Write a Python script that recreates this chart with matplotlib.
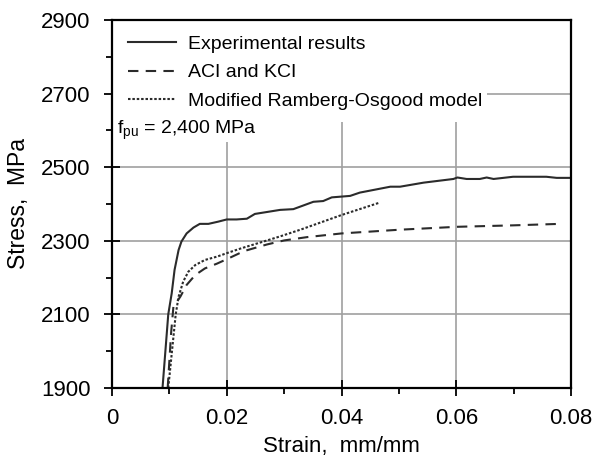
# Stress-strain curves: experimental vs. code models
import matplotlib.pyplot as plt
from matplotlib.patches import Rectangle

plt.rcParams['font.family'] = ['Liberation Sans', 'DejaVu Sans']

# experimental results (strain mm/mm, stress MPa)
exp_strain = [0.0088, 0.0098, 0.0104, 0.0109, 0.0116, 0.0121, 0.0130, 0.0142, 0.0153,
              0.0168, 0.0185, 0.0200, 0.0217, 0.0235, 0.0249, 0.0293,
              0.0316, 0.0351, 0.0368, 0.0383, 0.0415, 0.0432, 0.0485, 0.0502, 0.0543,
              0.0595, 0.0602, 0.0618, 0.0641, 0.0653, 0.0665, 0.0699, 0.0757, 0.0775, 0.0800]
exp_stress = [1900, 2100, 2157, 2221, 2275, 2298, 2320, 2336, 2346,
              2346, 2352, 2358, 2358, 2360, 2373, 2384,
              2386, 2406, 2408, 2418, 2422, 2431, 2447, 2447, 2458,
              2468, 2472, 2468, 2468, 2472, 2468, 2474, 2474, 2471, 2471]

# ACI and KCI
aci_strain = [0.0097, 0.0103, 0.0107, 0.0119, 0.0130, 0.0145, 0.0162, 0.0183, 0.0200,
              0.0230, 0.0270, 0.0300, 0.0340, 0.0400, 0.0500, 0.0601, 0.0700, 0.0781]
aci_stress = [1900, 2050, 2121, 2148, 2180, 2207, 2225, 2238, 2250,
              2272, 2290, 2301, 2310, 2320, 2330, 2338, 2342, 2346]

# Modified Ramberg-Osgood model
ro_strain = [0.0098, 0.0111, 0.0116, 0.0124, 0.0133, 0.0145, 0.0162, 0.0183, 0.0203,
             0.0226, 0.0264, 0.0293, 0.0328, 0.0400, 0.0467]
ro_stress = [1900, 2100, 2148, 2189, 2216, 2234, 2248, 2257, 2268,
             2280, 2298, 2312, 2330, 2370, 2404]

fig = plt.figure(figsize=(5.94, 4.62), dpi=100)
ax = fig.add_axes([0.1886, 0.1602, 0.7727, 0.7965])
ax.set_axisbelow(True)

lc = '#2b2b2b'
ax.plot(exp_strain, exp_stress, color=lc, lw=1.5, ls='-', label='Experimental results')
ax.plot(aci_strain, aci_stress, color=lc, lw=1.5, ls=(0, (5, 3.5)), label='ACI and KCI')
ax.plot(ro_strain, ro_stress, color=lc, lw=1.5, ls=(0, (1.2, 0.9)),
        label='Modified Ramberg-Osgood model')

ax.set_xlim(0, 0.08)
ax.set_ylim(1900, 2900)
ax.set_xticks([0, 0.02, 0.04, 0.06, 0.08])
ax.set_xticklabels(['0', '0.02', '0.04', '0.06', '0.08'])
ax.set_yticks([1900, 2100, 2300, 2500, 2700, 2900])
ax.set_xticks([0.01, 0.03, 0.05, 0.07], minor=True)
ax.set_yticks([2000, 2200, 2400, 2600, 2800], minor=True)
ax.tick_params(which='major', direction='inout', length=11, width=1.3,
               labelsize=16, colors='black')
ax.tick_params(which='minor', direction='out', length=4, width=1.3)
ax.tick_params(axis='y', which='major', pad=10)
ax.tick_params(axis='x', which='major', pad=9)
ax.grid(True, which='major', color='#a0a0a0', lw=1.2)
for s in ax.spines.values():
    s.set_linewidth(1.6)

# white areas behind legend and annotation
ax.add_patch(Rectangle((0, 0.723), 0.817, 0.28, transform=ax.transAxes,
                       facecolor='white', edgecolor='none', zorder=1))
ax.add_patch(Rectangle((0, 0.668), 0.27, 0.06, transform=ax.transAxes,
                       facecolor='white', edgecolor='none', zorder=1))

ax.legend(loc='upper left', bbox_to_anchor=(0.0, 1.0), frameon=False,
          fontsize=14, handlelength=2.5, handletextpad=0.6, labelspacing=0.55,
          borderaxespad=0.4)
ax.text(0.01, 0.69, r'$\mathregular{f_{pu}}$ = 2,400 MPa', transform=ax.transAxes,
        fontsize=14, va='baseline', ha='left')

ax.set_xlabel('Strain,  mm/mm', fontsize=16, labelpad=5)
ax.set_ylabel('Stress,  MPa', fontsize=16.5, labelpad=8)

fig.savefig('out.png', dpi=100)
